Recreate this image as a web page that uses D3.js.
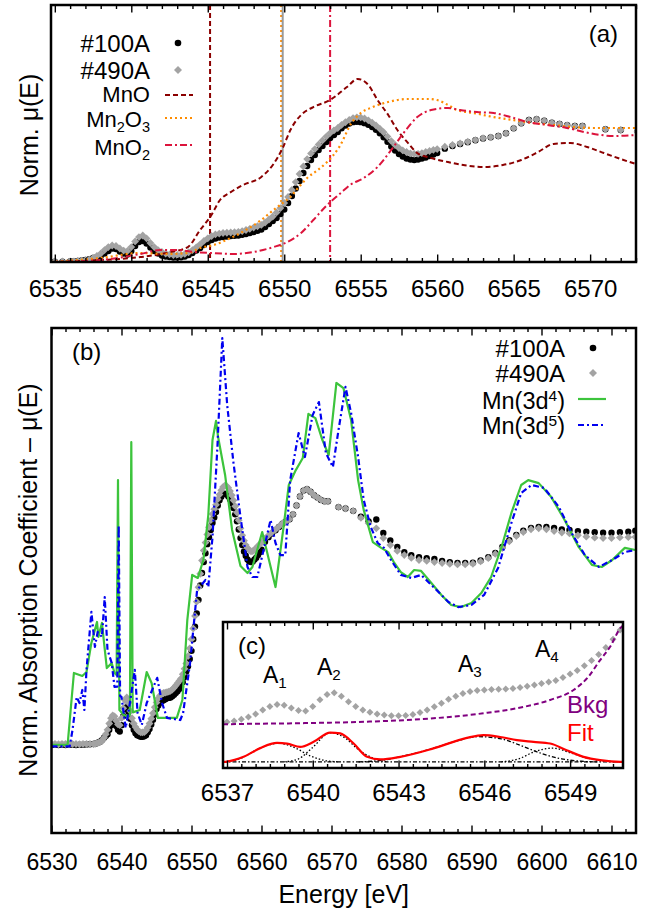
<!DOCTYPE html>
<html>
<head>
<meta charset="utf-8">
<script src="https://cdn.jsdelivr.net/npm/d3@7/dist/d3.min.js"></script>
<style>
  body { margin: 0; background: #fff; }
  svg text { font-family: "Liberation Sans", Arial, Helvetica, sans-serif; }
</style>
</head>
<body>
<svg id="fig" width="645" height="911"></svg>
<script>
// ---------------- measured sample spectra (shared by all panels) ----------------
const energy = [
  6530, 6530.5, 6531, 6531.5, 6532, 6532.5, 6533, 6533.5, 6534, 6534.5, 6535, 6535.5,
  6536, 6536.25, 6536.5, 6536.75, 6537, 6537.25, 6537.5, 6537.75,
  6538, 6538.25, 6538.5, 6538.75, 6539, 6539.25, 6539.5, 6539.75,
  6540, 6540.25, 6540.5, 6540.75, 6541, 6541.25, 6541.5, 6541.75,
  6542, 6542.25, 6542.5, 6542.75, 6543, 6543.25, 6543.5, 6543.75,
  6544, 6544.25, 6544.5, 6544.75, 6545, 6545.25, 6545.5, 6545.75,
  6546, 6546.25, 6546.5, 6546.75, 6547, 6547.25, 6547.5, 6547.75,
  6548, 6548.25, 6548.5, 6548.75, 6549, 6549.25, 6549.5, 6549.75,
  6550, 6550.25, 6550.5, 6550.75, 6551, 6551.25, 6551.5, 6551.75,
  6552, 6552.25, 6552.5, 6552.75, 6553, 6553.25, 6553.5, 6553.75,
  6554, 6554.25, 6554.5, 6554.75, 6555, 6555.25, 6555.5, 6555.75,
  6556, 6556.25, 6556.5, 6556.75, 6557, 6557.25, 6557.5, 6557.75,
  6558, 6558.25, 6558.5, 6558.75, 6559, 6559.25, 6559.5, 6559.75, 6560,
  6560.5, 6561, 6561.5, 6562, 6562.5, 6563, 6563.5, 6564, 6564.5, 6565,
  6565.5, 6566, 6566.5, 6567, 6567.5, 6568, 6568.5, 6569, 6569.5, 6571, 6572,
  6573.1, 6574.2, 6575.3, 6576.4, 6577.4, 6578.4, 6579.4, 6580.4, 6581.4, 6582.5,
  6583.6, 6584.7, 6585.8, 6586.9, 6588.0, 6589.1, 6590.2, 6591.3, 6592.4, 6593.4,
  6594.4, 6595.4, 6596.4, 6597.4, 6598.5, 6599.6, 6600.7, 6601.8, 6602.9, 6604.0,
  6605.2, 6606.4, 6607.6, 6608.8, 6610.0, 6611.2, 6612.4, 6613.4
];
const mu100A = [
  0.000, 0.001, 0.000, 0.001, 0.000, 0.001, 0.001, 0.000, 0.001, 0.001, 0.002, 0.003,
  0.004, 0.005, 0.008, 0.012, 0.015, 0.022, 0.031, 0.038,
  0.046, 0.065, 0.085, 0.104, 0.100, 0.081, 0.065, 0.058,
  0.085, 0.123, 0.154, 0.162, 0.142, 0.112, 0.085, 0.065,
  0.050, 0.042, 0.038, 0.035, 0.035, 0.037, 0.042, 0.054,
  0.069, 0.088, 0.108, 0.131, 0.154, 0.169, 0.181, 0.188,
  0.192, 0.196, 0.200, 0.202, 0.204, 0.209, 0.215, 0.223,
  0.231, 0.240, 0.250, 0.269, 0.292, 0.315, 0.338, 0.369,
  0.404, 0.454, 0.508, 0.565, 0.623, 0.685, 0.738, 0.785,
  0.823, 0.862, 0.892, 0.923, 0.954, 0.977, 1.000, 1.028,
  1.050, 1.066, 1.076, 1.079, 1.076, 1.068, 1.055, 1.038,
  1.017, 0.990, 0.960, 0.925, 0.888, 0.858, 0.831, 0.812,
  0.796, 0.788, 0.785, 0.788, 0.796, 0.804, 0.815, 0.827, 0.838,
  0.872, 0.892, 0.908, 0.922, 0.936, 0.950, 0.959, 0.969, 0.990, 1.028,
  1.067, 1.092, 1.098, 1.087, 1.072, 1.062, 1.052, 1.046, 1.046, 1.021, 1.015,
  1.005, 0.980, 0.960, 0.968, 0.910, 0.878, 0.850, 0.828, 0.815, 0.806,
  0.802, 0.798, 0.790, 0.785, 0.781, 0.781, 0.782, 0.792, 0.806, 0.824,
  0.850, 0.879, 0.902, 0.920, 0.932, 0.936, 0.936, 0.932, 0.925, 0.923,
  0.918, 0.915, 0.913, 0.911, 0.911, 0.913, 0.915, 0.920
];
const mu490A = [
  0.003, 0.004, 0.003, 0.004, 0.004, 0.003, 0.004, 0.004, 0.003, 0.004, 0.004, 0.004,
  0.004, 0.005, 0.008, 0.010, 0.013, 0.019, 0.031, 0.046,
  0.065, 0.092, 0.115, 0.127, 0.123, 0.104, 0.088, 0.085,
  0.115, 0.158, 0.192, 0.204, 0.181, 0.146, 0.115, 0.092,
  0.077, 0.065, 0.058, 0.054, 0.054, 0.055, 0.062, 0.075,
  0.092, 0.113, 0.136, 0.162, 0.182, 0.200, 0.212, 0.219,
  0.223, 0.225, 0.227, 0.229, 0.232, 0.238, 0.246, 0.255,
  0.265, 0.275, 0.285, 0.304, 0.327, 0.350, 0.381, 0.415,
  0.454, 0.500, 0.554, 0.615, 0.677, 0.735, 0.792, 0.835,
  0.869, 0.904, 0.935, 0.965, 0.992, 1.012, 1.031, 1.055,
  1.075, 1.093, 1.107, 1.113, 1.112, 1.104, 1.090, 1.072,
  1.050, 1.025, 0.998, 0.965, 0.930, 0.900, 0.877, 0.858,
  0.846, 0.836, 0.831, 0.832, 0.838, 0.846, 0.854, 0.862, 0.869,
  0.887, 0.900, 0.913, 0.925, 0.938, 0.952, 0.959, 0.969, 0.990, 1.028,
  1.067, 1.092, 1.098, 1.087, 1.072, 1.062, 1.052, 1.046, 1.046, 1.021, 1.015,
  1.005, 0.975, 0.952, 0.930, 0.888, 0.858, 0.833, 0.815, 0.803, 0.794,
  0.790, 0.785, 0.781, 0.777, 0.775, 0.775, 0.778, 0.788, 0.802, 0.820,
  0.845, 0.874, 0.897, 0.914, 0.926, 0.930, 0.926, 0.918, 0.912, 0.908,
  0.900, 0.894, 0.890, 0.888, 0.888, 0.891, 0.892, 0.893
];

// ---------------- reference oxides, panel (a) ----------------
const mnoEnergy = [6534.75, 6538.0, 6540.6, 6542.6, 6543.7, 6544.5, 6545.2, 6545.8, 6546.5, 6547.3,
  6548.5, 6549.3, 6549.9, 6550.4, 6551.1, 6551.9, 6553.0, 6554.1, 6554.8, 6555.5,
  6556.1, 6556.8, 6557.4, 6558.1, 6558.7, 6559.6, 6560.7, 6561.7, 6563.0, 6564.3,
  6565.5, 6566.6, 6567.6, 6568.7, 6569.8, 6570.9, 6572.0, 6573.0];
const mnoMu = [0.000, 0.015, 0.038, 0.077, 0.115, 0.246, 0.354, 0.477, 0.538, 0.592,
  0.654, 0.754, 0.877, 1.015, 1.131, 1.192, 1.246, 1.346, 1.408, 1.362,
  1.246, 1.131, 1.015, 0.915, 0.838, 0.800, 0.769, 0.746, 0.731, 0.746,
  0.785, 0.846, 0.908, 0.915, 0.885, 0.838, 0.792, 0.754];

const mn2o3Energy = [6534.75, 6538.0, 6540.6, 6542.4, 6543.7, 6544.5, 6545.4, 6546.5, 6547.6, 6548.5,
  6549.3, 6549.9, 6550.4, 6550.9, 6551.5, 6552.2, 6552.8, 6553.6, 6554.4, 6555.0,
  6555.8, 6556.8, 6558.1, 6559.4, 6560.0, 6560.7, 6561.3, 6562.4, 6563.7, 6565.0,
  6566.3, 6567.6, 6568.9, 6570.2, 6571.5, 6573.0];
const mn2o3Mu = [0.000, 0.031, 0.069, 0.062, 0.069, 0.108, 0.131, 0.185, 0.254, 0.323,
  0.400, 0.454, 0.500, 0.569, 0.646, 0.708, 0.769, 0.885, 1.069, 1.146,
  1.192, 1.231, 1.254, 1.254, 1.246, 1.208, 1.169, 1.146, 1.115, 1.092,
  1.069, 1.054, 1.038, 1.031, 1.031, 1.031];

const mno2Energy = [6534.75, 6538.0, 6540.6, 6541.9, 6543.0, 6544.1, 6545.2, 6546.7, 6548.0, 6549.3,
  6550.2, 6551.1, 6551.9, 6552.8, 6553.7, 6554.3, 6555.2, 6556.1, 6557.0, 6557.8,
  6558.7, 6559.6, 6560.7, 6561.5, 6562.6, 6563.7, 6564.8, 6565.9, 6567.2, 6568.5,
  6569.6, 6570.7, 6571.5, 6573.0];
const mno2Mu = [0.000, 0.015, 0.062, 0.092, 0.092, 0.077, 0.069, 0.062, 0.077, 0.115,
  0.154, 0.223, 0.323, 0.438, 0.531, 0.592, 0.646, 0.731, 0.862, 0.992,
  1.115, 1.169, 1.185, 1.169, 1.154, 1.146, 1.115, 1.077, 1.054, 1.031,
  1.000, 0.977, 0.969, 0.977];

// edge positions marked in panel (a)
const edgeMnO = 6545.15, edgeMn2O3 = 6549.8, edgeSample = 6549.9, edgeMnO2 = 6553.0;

// ---------------- calculated spectra, panel (b) ----------------
const d4Energy = [6530.0, 6532.3, 6533.2, 6534.4, 6535.0, 6535.7, 6536.5, 6536.7, 6537.2, 6537.9,
  6538.6, 6539.0, 6539.3, 6539.5, 6539.7, 6540.3, 6540.9, 6541.2, 6541.4, 6541.6,
  6542.6, 6543.6, 6544.3, 6545.2, 6547.9, 6548.7, 6549.4, 6550.1, 6550.9, 6551.7,
  6552.4, 6553.0, 6553.5, 6553.8, 6554.8, 6555.8, 6557.0, 6558.0, 6558.7, 6560.1,
  6562.0, 6563.1, 6563.9, 6564.9, 6565.9, 6566.7, 6567.7, 6568.7, 6569.6, 6570.7,
  6571.7, 6572.8, 6573.8, 6574.6, 6575.9, 6577.1, 6578.1, 6578.9, 6579.9, 6580.9,
  6581.8, 6582.8, 6583.9, 6585.7, 6587.1, 6588.5, 6590.0, 6591.4, 6592.8, 6594.3,
  6595.7, 6597.1, 6598.1, 6599.6, 6601.4, 6603.3, 6605.3, 6607.2, 6608.6, 6610.1,
  6611.9, 6613.4];
const d4Mu = [0.000, 0.000, 0.309, 0.296, 0.313, 0.438, 0.528, 0.464, 0.524, 0.330,
  0.352, 0.309, 0.300, 1.137, 0.150, 0.130, 0.120, 0.130, 1.300, 0.140,
  0.150, 0.313, 0.266, 0.116, 0.116, 0.193, 0.536, 0.730, 0.717, 0.794,
  0.987, 1.309, 1.391, 1.322, 1.159, 0.923, 0.768, 0.738, 0.764, 0.914,
  0.678, 0.923, 1.116, 1.180, 1.232, 1.421, 1.403, 1.309, 1.245, 1.554,
  1.532, 1.395, 1.137, 1.009, 0.871, 0.846, 0.828, 0.785, 0.742, 0.721,
  0.751, 0.747, 0.708, 0.644, 0.601, 0.592, 0.609, 0.652, 0.721, 0.850,
  0.996, 1.116, 1.137, 1.124, 1.064, 0.966, 0.850, 0.773, 0.764, 0.794,
  0.846, 0.837];

const d5Energy = [6530.0, 6532.6, 6533.0, 6533.6, 6534.0, 6534.4, 6534.7, 6535.0, 6535.7, 6536.2,
  6536.6, 6537.2, 6537.6, 6538.0, 6538.6, 6539.0, 6539.4, 6539.6, 6539.8, 6540.0,
  6540.6, 6541.2, 6541.9, 6542.3, 6542.9, 6543.6, 6545.1, 6545.8, 6546.5, 6548.4,
  6548.8, 6549.8, 6550.8, 6552.0, 6552.4, 6553.0, 6553.7, 6554.4, 6555.1, 6556.0,
  6557.0, 6558.0, 6558.7, 6559.4, 6560.3, 6561.3, 6562.0, 6562.7, 6563.4, 6564.1,
  6565.3, 6566.2, 6567.3, 6568.2, 6569.2, 6570.2, 6571.0, 6572.0, 6572.8, 6573.8,
  6574.6, 6575.6, 6576.6, 6577.5, 6578.5, 6579.9, 6581.4, 6582.8, 6584.7, 6586.7,
  6588.1, 6590.0, 6591.8, 6593.8, 6595.7, 6597.1, 6598.6, 6600.4, 6602.5, 6604.3,
  6606.2, 6608.2, 6610.1, 6611.9, 6613.4];
const d5Mu = [-0.006, -0.006, 0.064, 0.206, 0.180, 0.236, 0.150, 0.322, 0.571, 0.421,
  0.485, 0.464, 0.635, 0.408, 0.352, 0.249, 0.250, 0.944, 0.210, 0.206,
  0.073, 0.180, 0.322, 0.137, 0.086, 0.180, 0.288, 0.180, 0.116, 0.107,
  0.137, 0.352, 0.665, 0.708, 0.678, 0.893, 1.279, 1.747, 1.459, 1.210,
  0.979, 0.764, 0.721, 0.721, 0.837, 0.966, 0.867, 0.815, 0.815, 1.137,
  1.339, 1.236, 1.416, 1.472, 1.253, 1.193, 1.352, 1.537, 1.425, 1.236,
  1.052, 0.936, 0.867, 0.846, 0.794, 0.730, 0.717, 0.730, 0.674, 0.614,
  0.592, 0.601, 0.644, 0.760, 0.953, 1.082, 1.116, 1.103, 1.021, 0.910,
  0.815, 0.764, 0.794, 0.828, 0.837];

// ---------------- pre-edge fit, inset (c) ----------------
const bkgEnergy = [6536.86, 6537.0, 6539.56, 6541.9, 6544.22, 6545.97, 6547.14, 6548.3, 6549.12, 6549.64, 6550.05, 6550.4, 6550.75, 6550.85];
const bkgMu = [-0.003, -0.002, 0.005, 0.015, 0.037, 0.070, 0.103, 0.157, 0.222, 0.309, 0.418, 0.505, 0.625, 0.645];

const fitEnergy = [6536.86, 6537.0, 6537.58, 6538.16, 6538.75, 6539.1, 6539.56, 6540.03, 6540.61, 6540.96,
  6541.43, 6541.9, 6542.36, 6543.06, 6544.22, 6545.39, 6545.97, 6546.55, 6547.14, 6547.72,
  6548.3, 6548.88, 6549.47, 6550.05, 6550.75, 6550.85];
const fitMu = [0.000, 0.002, 0.033, 0.090, 0.124, 0.120, 0.098, 0.131, 0.192, 0.186,
  0.120, 0.033, 0.016, 0.033, 0.088, 0.157, 0.175, 0.163, 0.142, 0.131,
  0.120, 0.076, 0.033, 0.011, 0.000, 0.000];

const peakA1Energy = [6536.9, 6537.5, 6538.1, 6538.8, 6539.4, 6539.9, 6540.4, 6540.9];
const peakA1Mu = [0.000, 0.025, 0.085, 0.122, 0.090, 0.040, 0.010, 0.000];
const peakA2Energy = [6539.0, 6539.5, 6540.0, 6540.6, 6541.1, 6541.6, 6542.1, 6542.6];
const peakA2Mu = [0.000, 0.020, 0.095, 0.190, 0.160, 0.080, 0.025, 0.000];
const peakA3Energy = [6541.6, 6542.5, 6543.2, 6544.2, 6545.0, 6545.8, 6546.6, 6547.3, 6548.0, 6548.7, 6549.4, 6550.0];
const peakA3Mu = [0.000, 0.012, 0.040, 0.088, 0.135, 0.165, 0.150, 0.105, 0.055, 0.020, 0.004, 0.000];
const peakA4Energy = [6546.6, 6547.2, 6547.8, 6548.4, 6549.0, 6549.6, 6550.2, 6550.8];
const peakA4Mu = [0.000, 0.020, 0.070, 0.090, 0.060, 0.025, 0.006, 0.000];

// ---------------- axis ticks ----------------
const ticksA = [6535, 6540, 6545, 6550, 6555, 6560, 6565, 6570];
const ticksB = [6530, 6540, 6550, 6560, 6570, 6580, 6590, 6600, 6610];
const ticksC = [6537, 6540, 6543, 6546, 6549];

// ---------------- styles ----------------
const GRAY = "#a3a3a3";
const C_MNO = "#8b0000", C_MN2O3 = "#ff8c00", C_MNO2 = "#dc143c";
const C_D4 = "#3cc43c", C_D5 = "#0000f0", C_BKG = "#800080", C_FIT = "#ff0000";
const DASH = "5,3", DOT = "2,3", DASHDOT = "7,3,2,3";

const svg = d3.select("#fig");
const defs = svg.append("defs");
function clipRect(id, x0, y0, x1, y1) {
  defs.append("clipPath").attr("id", id).append("rect")
    .attr("x", x0).attr("y", y0).attr("width", x1 - x0).attr("height", y1 - y0);
  return `url(#${id})`;
}

const rows = energy.map((e, i) => ({ e, k: mu100A[i], g: mu490A[i] }));
const pairs = (xs, ys) => xs.map((x, i) => [x, ys[i]]);
const diamondPath = r => `M0,${-r}L${r},0L0,${r}L${-r},0Z`;

function drawSamples(g, x, y, data, r) {
  g.append("g").selectAll("circle").data(data).join("circle")
    .attr("cx", d => x(d.e)).attr("cy", d => y(d.k)).attr("r", r).attr("fill", "#000");
  g.append("g").selectAll("path").data(data).join("path")
    .attr("d", diamondPath(r + 0.7))
    .attr("transform", d => `translate(${x(d.e)},${y(d.g)})`).attr("fill", GRAY);
}

function drawLine(g, x, y, data, color, width, dash, curve) {
  g.append("path").datum(data)
    .attr("d", d3.line().x(d => x(d[0])).y(d => y(d[1])).curve(curve || d3.curveLinear))
    .attr("fill", "none").attr("stroke", color).attr("stroke-width", width)
    .attr("stroke-dasharray", dash || null).attr("stroke-linejoin", "round");
}

function xTicks(g, x, yTop, yBot, majors, minors, fs, labelBase) {
  const add = (axisFn, y, vals, len) => g.append("g").attr("transform", `translate(0,${y})`)
    .call(axisFn(x).tickValues(vals).tickSize(-len).tickFormat(""))
    .call(s => s.select(".domain").remove())
    .call(s => s.selectAll("line").attr("stroke", "#000").attr("stroke-width", 1.4));
  add(d3.axisBottom, yBot, minors, 4);
  add(d3.axisBottom, yBot, majors, 7.5);
  add(d3.axisTop, yTop, minors, 4);
  add(d3.axisTop, yTop, majors, 7.5);
  g.append("g").attr("transform", `translate(0,${yBot})`)
    .call(d3.axisBottom(x).tickValues(majors).tickSize(0).tickFormat(d3.format("d")))
    .call(s => s.select(".domain").remove())
    .call(s => s.selectAll("text").attr("y", labelBase - yBot).attr("dy", null)
      .attr("font-size", fs).attr("fill", "#000")
      .attr("font-family", '"Liberation Sans", Arial, Helvetica, sans-serif'));
}

// text with sub-/superscripts: k = 1 subscript, k = -1 superscript
function rich(g, x, y, parts, size, anchor, color) {
  const t = g.append("text").attr("x", x).attr("y", y).attr("font-size", size)
    .attr("text-anchor", anchor || "start").attr("fill", color || "#000");
  let off = 0;
  parts.forEach(([s, k]) => {
    const target = k === 1 ? size * 0.22 : k === -1 ? -size * 0.33 : 0;
    t.append("tspan").attr("dy", target - off).attr("font-size", k ? size * 0.66 : size).text(s);
    off = target;
  });
  return t;
}

function frame(g, x0, y0, x1, y1, fill) {
  g.append("rect").attr("x", x0).attr("y", y0).attr("width", x1 - x0).attr("height", y1 - y0)
    .attr("fill", fill || "none").attr("stroke", "#000").attr("stroke-width", 2.5);
}

// =========================== panel (a) ===========================
const A = { x0: 51, x1: 636, y0: 5, y1: 262 };
const xA = d3.scaleLinear().domain([6534.75, 6573]).range([A.x0, A.x1]);
const yA = d3.scaleLinear().domain([0, 1.977]).range([A.y1, A.y0]);
const gA = svg.append("g");
const plotA = gA.append("g").attr("clip-path", clipRect("clipA", A.x0, A.y0, A.x1, A.y1));

// edge-position markers
[[edgeMnO, C_MNO, DASH, 2], [edgeMn2O3, C_MN2O3, DOT, 2], [edgeSample, "#9a9a9a", null, 2], [edgeMnO2, C_MNO2, DASHDOT, 2]]
  .forEach(([e, c, d, w]) => plotA.append("line")
    .attr("x1", xA(e)).attr("x2", xA(e)).attr("y1", A.y0).attr("y2", A.y1)
    .attr("stroke", c).attr("stroke-width", w).attr("stroke-dasharray", d));

drawSamples(plotA, xA, yA, rows.filter(d => d.e >= 6534.5 && d.e <= 6573.5), 3.2);
drawLine(plotA, xA, yA, pairs(mnoEnergy, mnoMu), C_MNO, 2, DASH, d3.curveMonotoneX);
drawLine(plotA, xA, yA, pairs(mn2o3Energy, mn2o3Mu), C_MN2O3, 2.2, DOT, d3.curveMonotoneX);
drawLine(plotA, xA, yA, pairs(mno2Energy, mno2Mu), C_MNO2, 2, DASHDOT, d3.curveMonotoneX);

xTicks(gA, xA, A.y0, A.y1, ticksA, d3.range(6535, 6573.01, 1).filter(v => v % 5), 24, 297);
frame(gA, A.x0, A.y0, A.x1, A.y1);

gA.append("text").attr("transform", "translate(38,135) rotate(-90)")
  .attr("text-anchor", "middle").attr("font-size", 25).text("Norm. \u03bc(E)");
gA.append("text").attr("x", 618).attr("y", 42).attr("text-anchor", "end").attr("font-size", 24).text("(a)");

// legend (a)
const legA = gA.append("g");
legA.append("text").attr("x", 150).attr("y", 52).attr("text-anchor", "end").attr("font-size", 24).text("#100A");
legA.append("circle").attr("cx", 178).attr("cy", 43).attr("r", 3.3).attr("fill", "#000");
legA.append("text").attr("x", 150).attr("y", 79).attr("text-anchor", "end").attr("font-size", 24).text("#490A");
legA.append("path").attr("d", diamondPath(4)).attr("transform", "translate(178,70)").attr("fill", GRAY);
rich(legA, 150, 102, [["MnO", 0]], 22, "end");
rich(legA, 150, 127, [["Mn", 0], ["2", 1], ["O", 0], ["3", 1]], 22, "end");
rich(legA, 150, 155, [["MnO", 0], ["2", 1]], 22, "end");
[[95, C_MNO, DASH, 2], [118, C_MN2O3, DOT, 2.2], [145, C_MNO2, DASHDOT, 2]].forEach(([y, c, d, w]) =>
  legA.append("line").attr("x1", 165).attr("x2", 193).attr("y1", y).attr("y2", y)
    .attr("stroke", c).attr("stroke-width", w).attr("stroke-dasharray", d));

// =========================== panel (b) ===========================
const B = { x0: 51.5, x1: 636, y0: 328, y1: 833 };
const xB = d3.scaleLinear().domain([6530, 6613.5]).range([B.x0, B.x1]);
const yB = d3.scaleLinear().domain([-0.378, 1.79]).range([B.y1, B.y0]);
const gB = svg.append("g");
const plotB = gB.append("g").attr("clip-path", clipRect("clipB", B.x0, B.y0, B.x1, B.y1));

drawSamples(plotB, xB, yB, rows, 3.2);
drawLine(plotB, xB, yB, pairs(d4Energy, d4Mu), C_D4, 2.2, null);
drawLine(plotB, xB, yB, pairs(d5Energy, d5Mu), C_D5, 2.2, "6,3,2,3");

xTicks(gB, xB, B.y0, B.y1, ticksB, d3.range(6532, 6613, 2).filter(v => v % 10), 23, 870);

// legend (b)
const legB = gB.append("g");
legB.append("text").attr("x", 565).attr("y", 357).attr("text-anchor", "end").attr("font-size", 24).text("#100A");
legB.append("circle").attr("cx", 593).attr("cy", 348).attr("r", 3.3).attr("fill", "#000");
legB.append("text").attr("x", 565).attr("y", 382).attr("text-anchor", "end").attr("font-size", 24).text("#490A");
legB.append("path").attr("d", diamondPath(4)).attr("transform", "translate(593,373)").attr("fill", GRAY);
rich(legB, 565, 409, [["Mn(3d", 0], ["4", -1], [")", 0]], 23.5, "end");
rich(legB, 565, 434, [["Mn(3d", 0], ["5", -1], [")", 0]], 23.5, "end");
legB.append("line").attr("x1", 578).attr("x2", 606).attr("y1", 399).attr("y2", 399)
  .attr("stroke", C_D4).attr("stroke-width", 2.2);
legB.append("line").attr("x1", 578).attr("x2", 606).attr("y1", 425).attr("y2", 425)
  .attr("stroke", C_D5).attr("stroke-width", 2.2).attr("stroke-dasharray", "6,3,2,3");

gB.append("text").attr("x", 72).attr("y", 360).attr("font-size", 24).text("(b)");
gB.append("text").attr("transform", "translate(37,580) rotate(-90)")
  .attr("text-anchor", "middle").attr("font-size", 25).text("Norm. Absorption Coefficient \u2013 \u03bc(E)");
gB.append("text").attr("x", (B.x0 + B.x1) / 2).attr("y", 903).attr("text-anchor", "middle")
  .attr("font-size", 25).text("Energy [eV]");

// =========================== inset (c) ===========================
const C = { x0: 223, x1: 623, y0: 622, y1: 768 };
const xC = d3.scaleLinear().domain([6536.86, 6550.85]).range([C.x0, C.x1]);
const yC = d3.scaleLinear().domain([-0.288, 0.667]).range([C.y1, C.y0]);
const yFit = d3.scaleLinear().domain([-0.04, 0.915]).range([C.y1, C.y0]);
const gC = svg.append("g");
gC.append("rect").attr("x", C.x0).attr("y", C.y0).attr("width", C.x1 - C.x0).attr("height", C.y1 - C.y0).attr("fill", "#fff");
const plotC = gC.append("g").attr("clip-path", clipRect("clipC", C.x0, C.y0, C.x1, C.y1));

plotC.append("g").selectAll("path").data(rows.filter(d => d.e >= 6536.5 && d.e <= 6551.2)).join("path")
  .attr("d", diamondPath(3.5)).attr("transform", d => `translate(${xC(d.e)},${yC(d.g)})`).attr("fill", GRAY);
drawLine(plotC, xC, yC, pairs(bkgEnergy, bkgMu), C_BKG, 2, DASH, d3.curveMonotoneX);

// zero line of the fit and the four pre-edge components
plotC.append("line").attr("x1", C.x0).attr("x2", C.x1).attr("y1", yFit(0)).attr("y2", yFit(0))
  .attr("stroke", "#000").attr("stroke-width", 1.2).attr("stroke-dasharray", "4,2,1.5,2");
drawLine(plotC, xC, yFit, pairs(peakA1Energy, peakA1Mu), "#000", 1.3, "1.5,2", d3.curveMonotoneX);
drawLine(plotC, xC, yFit, pairs(peakA2Energy, peakA2Mu), "#000", 1.3, "1.5,2", d3.curveMonotoneX);
drawLine(plotC, xC, yFit, pairs(peakA3Energy, peakA3Mu), "#000", 1.3, "4,2,1.5,2", d3.curveMonotoneX);
drawLine(plotC, xC, yFit, pairs(peakA4Energy, peakA4Mu), "#000", 1.3, "1.5,2", d3.curveMonotoneX);
drawLine(plotC, xC, yFit, pairs(fitEnergy, fitMu), C_FIT, 2.2, null, d3.curveMonotoneX);

xTicks(gC, xC, C.y0, C.y1, ticksC, d3.range(6537, 6550.6, 0.5).filter(v => (v - 6537) % 3 !== 0), 24, 801);
frame(gC, C.x0, C.y0, C.x1, C.y1);

gC.append("text").attr("x", 238).attr("y", 654).attr("font-size", 24).text("(c)");
rich(gC, 263, 683, [["A", 0], ["1", 1]], 23, "start");
rich(gC, 317, 675, [["A", 0], ["2", 1]], 23, "start");
rich(gC, 458, 672, [["A", 0], ["3", 1]], 23, "start");
rich(gC, 535, 657, [["A", 0], ["4", 1]], 23, "start");
gC.append("text").attr("x", 567).attr("y", 713).attr("font-size", 24).attr("fill", C_BKG).text("Bkg");
gC.append("text").attr("x", 567).attr("y", 741).attr("font-size", 24).attr("fill", C_FIT).text("Fit");

// frame of (b) on top of everything in it
frame(gB, B.x0, B.y0, B.x1, B.y1);
</script>
</body>
</html>
